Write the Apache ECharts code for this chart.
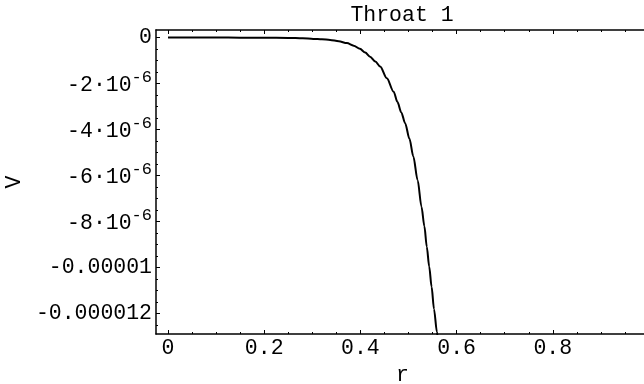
<!DOCTYPE html>
<html>
<head>
<meta charset="utf-8">
<script src="https://cdn.jsdelivr.net/npm/echarts@6/dist/echarts.min.js"></script>
<style>
html,body{margin:0;padding:0;background:#fff;}
#c{width:644px;height:384px;}
</style>
</head>
<body>
<div id="c"></div>
<script>
// ---- data ----
const titleText = 'Throat 1';
const xName = 'r';
const yName = 'V';
const rValues = [0, 0.05, 0.10, 0.15, 0.20, 0.25, 0.28, 0.302, 0.320, 0.337, 0.355, 0.372, 0.386, 0.399, 0.410, 0.420, 0.431, 0.441, 0.455, 0.469, 0.477, 0.485, 0.493, 0.502, 0.510, 0.519, 0.527, 0.533, 0.538, 0.543, 0.548, 0.553, 0.559, 0.561];
const vValues = [0, 0, 0, -0.002e-6, -0.005e-6, -0.015e-6, -0.03e-6, -0.057e-6, -0.075e-6, -0.10e-6, -0.16e-6, -0.24e-6, -0.35e-6, -0.49e-6, -0.65e-6, -0.83e-6, -1.04e-6, -1.26e-6, -1.77e-6, -2.35e-6, -2.8e-6, -3.25e-6, -3.72e-6, -4.4e-6, -5.17e-6, -6.2e-6, -7.35e-6, -8.2e-6, -9.09e-6, -9.95e-6, -1.083e-5, -1.18e-5, -1.278e-5, -1.31e-5];
const xTicks = [0, 0.2, 0.4, 0.6, 0.8];
const xTickLabels = ['0', '0.2', '0.4', '0.6', '0.8'];
const xMinorTicks = [0.05, 0.1, 0.15, 0.25, 0.3, 0.35, 0.45, 0.5, 0.55, 0.65, 0.7, 0.75, 0.85, 0.9, 0.95];
const yTicks = [0, -2e-6, -4e-6, -6e-6, -8e-6, -1e-5, -1.2e-5];
const yTickLabels = ['0', '-2·10^-6', '-4·10^-6', '-6·10^-6', '-8·10^-6', '-0.00001', '-0.000012'];
const yMinorTicks = [-0.5e-6, -1e-6, -1.5e-6, -2.5e-6, -3e-6, -3.5e-6, -4.5e-6, -5e-6, -5.5e-6, -6.5e-6, -7e-6, -7.5e-6, -8.5e-6, -9e-6, -9.5e-6, -1.05e-5, -1.1e-5, -1.15e-5, -1.25e-5];
const xRange = [-0.025, 1.0];
const yRange = [-1.288e-5, 3.3e-7];

// ---- chart ----
const FONT = 'Liberation Mono';
const FS = 21.5;
function pick(ticks, labels, v) {
  for (let i = 0; i < ticks.length; i++) {
    if (Math.abs(ticks[i] - v) < Math.max(1e-12, Math.abs(ticks[i]) * 1e-6)) return labels[i];
  }
  return '';
}
function fmtY(v) {
  const s = pick(yTicks, yTickLabels, v);
  if (s.indexOf('^') >= 0) {
    const p = s.split('^');
    return '{a|' + p[0] + '}{s|' + p[1] + '}';
  }
  return s;
}
const grid = {left: 156, top: 30, bottom: 50, right: -5, containLabel: false, outerBoundsMode: 'none'};
const lineStyle = {color: '#000', width: 1.5};
const baseX = {type: 'value', min: xRange[0], max: xRange[1], splitLine: {show: false}};
const baseY = {type: 'value', min: yRange[0], max: yRange[1], splitLine: {show: false}};

const chart = echarts.init(document.getElementById('c'), null, {renderer: 'canvas'});
chart.setOption({
  backgroundColor: '#fff',
  animation: false,
  title: {
    text: titleText, left: 397, top: -1, textAlign: 'center',
    textStyle: {fontFamily: FONT, fontSize: FS, fontWeight: 'normal', color: '#000'}
  },
  grid: [Object.assign({}, grid), Object.assign({}, grid)],
  xAxis: [
    Object.assign({}, baseX, {
      gridIndex: 0, position: 'bottom',
      name: xName, nameLocation: 'middle', nameGap: 22,
      nameTextStyle: {fontFamily: FONT, fontSize: FS, color: '#000'},
      axisLine: {show: true, onZero: false, lineStyle: lineStyle},
      axisTick: {show: true, inside: true, length: 4, customValues: xTicks, lineStyle: {color: '#000', width: 1}},
      axisLabel: {show: true, margin: 3, customValues: xTicks, formatter: v => pick(xTicks, xTickLabels, v),
        fontFamily: FONT, fontSize: FS, color: '#000'}
    }),
    Object.assign({}, baseX, {
      gridIndex: 0, position: 'top',
      axisLine: {show: true, onZero: false, lineStyle: lineStyle},
      axisTick: {show: true, inside: true, length: 4, customValues: xTicks, lineStyle: {color: '#000', width: 1}},
      axisLabel: {show: false}
    }),
    Object.assign({}, baseX, {
      gridIndex: 1, position: 'bottom',
      axisLine: {show: false, onZero: false},
      axisTick: {show: true, inside: true, length: 2, customValues: xMinorTicks, lineStyle: {color: '#000', width: 1}},
      axisLabel: {show: false}
    }),
    Object.assign({}, baseX, {
      gridIndex: 1, position: 'top',
      axisLine: {show: false, onZero: false},
      axisTick: {show: true, inside: true, length: 2, customValues: xMinorTicks, lineStyle: {color: '#000', width: 1}},
      axisLabel: {show: false}
    })
  ],
  yAxis: [
    Object.assign({}, baseY, {
      gridIndex: 0, position: 'left',
      name: yName, nameLocation: 'middle', nameGap: 130, nameRotate: 90,
      nameTextStyle: {fontFamily: FONT, fontSize: FS, color: '#000'},
      axisLine: {show: true, onZero: false, lineStyle: lineStyle},
      axisTick: {show: true, inside: true, length: 4, customValues: yTicks, lineStyle: {color: '#000', width: 1}},
      axisLabel: {show: true, margin: 4, customValues: yTicks, formatter: fmtY,
        fontFamily: FONT, fontSize: FS, color: '#000',
        rich: {
          a: {fontFamily: FONT, fontSize: FS, color: '#000', lineHeight: 22, padding: [4, 0, 0, 0]},
          s: {fontFamily: FONT, fontSize: 17, color: '#000', lineHeight: 17, padding: [0, 0, 13, 0]}
        }}
    }),
    Object.assign({}, baseY, {
      gridIndex: 1, position: 'left',
      axisLine: {show: false, onZero: false},
      axisTick: {show: true, inside: true, length: 2, customValues: yMinorTicks, lineStyle: {color: '#000', width: 1}},
      axisLabel: {show: false}
    })
  ],
  series: [{
    type: 'line', xAxisIndex: 0, yAxisIndex: 0,
    data: rValues.map((r, i) => [r, vValues[i]]),
    showSymbol: false, smooth: 0.3, smoothMonotone: 'x', clip: true,
    lineStyle: {color: '#000', width: 2}
  }]
});
</script>
</body>
</html>
